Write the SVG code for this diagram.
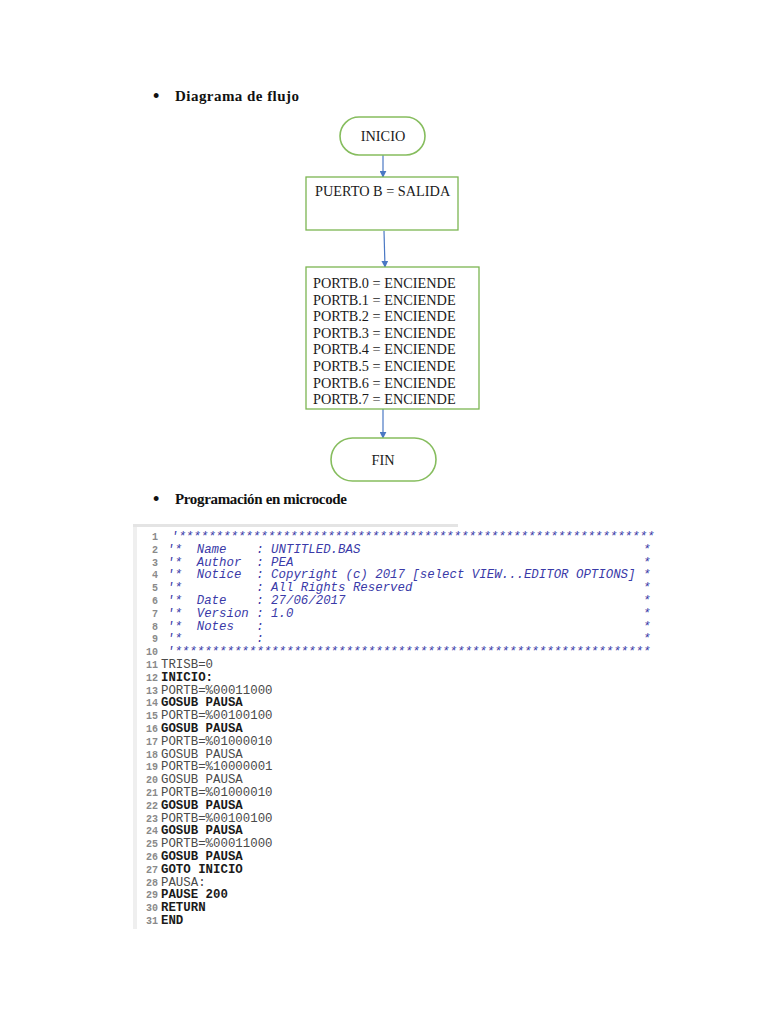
<svg xmlns="http://www.w3.org/2000/svg" width="768" height="1024" viewBox="0 0 768 1024">
<style>
.hd{font-family:"Liberation Serif",serif;font-weight:bold;font-size:15px;fill:#111}
.bul{font-family:"Liberation Sans",sans-serif;font-size:18px;fill:#111}
.term{fill:#fff;stroke:#86bd5e;stroke-width:1.6}
.box{fill:#fff;stroke:#7cb552;stroke-width:1.3}
.t{font-family:"Liberation Serif",serif;font-size:14.3px;fill:#1a1a1a}
.conn{stroke:#4a78c4;stroke-width:1.2;fill:none}
.ln{font-family:"Liberation Mono",monospace;font-size:10px;fill:#8a8a8a;font-weight:bold;text-anchor:end}
.cm{font-family:"Liberation Mono",monospace;font-size:12.4px;font-style:italic;fill:#3a3aa8}
.cd{font-family:"Liberation Mono",monospace;font-size:12.4px;fill:#4a4a4a}
.cb{font-family:"Liberation Mono",monospace;font-size:12.4px;fill:#1a1a1a;font-weight:bold}
</style>
<defs>
<marker id="ah" viewBox="0 0 10 10" refX="9" refY="5" markerWidth="7" markerHeight="7" orient="auto" markerUnits="userSpaceOnUse">
<path d="M0,0 L10,5 L0,10 z" fill="#4a78c4"/>
</marker>
</defs>
<rect width="768" height="1024" fill="#fff"/>

<g id="heading1">
<text class="bul" x="153" y="102">•</text>
<text class="hd" x="175" y="101" textLength="124">Diagrama de flujo</text>
</g>

<g id="connectors">
<line class="conn" x1="383" y1="155" x2="383" y2="177" marker-end="url(#ah)"/>
<line class="conn" x1="384" y1="231" x2="385" y2="267" marker-end="url(#ah)"/>
<line class="conn" x1="383" y1="409" x2="383" y2="438" marker-end="url(#ah)"/>
</g>

<g id="inicio">
<rect class="term" x="340" y="117" width="85" height="38" rx="19"/>
<text class="t" x="383" y="141" text-anchor="middle">INICIO</text>
</g>

<g id="puerto">
<rect class="box" x="306" y="177" width="152" height="53"/>
<text class="t" x="315" y="196">PUERTO B = SALIDA</text>
</g>

<g id="portb">
<rect class="box" x="306" y="267" width="173" height="142"/>
<text class="t" x="313" y="288">PORTB.0 = ENCIENDE</text>
<text class="t" x="313" y="304.6">PORTB.1 = ENCIENDE</text>
<text class="t" x="313" y="321.2">PORTB.2 = ENCIENDE</text>
<text class="t" x="313" y="337.8">PORTB.3 = ENCIENDE</text>
<text class="t" x="313" y="354.4">PORTB.4 = ENCIENDE</text>
<text class="t" x="313" y="371">PORTB.5 = ENCIENDE</text>
<text class="t" x="313" y="387.6">PORTB.6 = ENCIENDE</text>
<text class="t" x="313" y="404.2">PORTB.7 = ENCIENDE</text>
</g>

<g id="fin">
<rect class="term" x="331" y="438" width="105" height="43" rx="21.5"/>
<text class="t" x="383" y="465" text-anchor="middle">FIN</text>
</g>

<g id="heading2">
<text class="bul" x="153" y="505">•</text>
<text class="hd" x="175" y="504" textLength="172">Programación en microcode</text>
</g>

<g id="code">
<rect x="133" y="524" width="325" height="3" fill="#e4e4e4"/>
<rect x="133" y="527" width="4" height="402" fill="#efefef"/>
<text class="ln" x="158" y="540">1</text>
<text class="ln" x="158" y="552.8">2</text>
<text class="ln" x="158" y="565.6">3</text>
<text class="ln" x="158" y="578.4">4</text>
<text class="ln" x="158" y="591.2">5</text>
<text class="ln" x="158" y="604">6</text>
<text class="ln" x="158" y="616.8">7</text>
<text class="ln" x="158" y="629.6">8</text>
<text class="ln" x="158" y="642.4">9</text>
<text class="ln" x="158" y="655.2">10</text>
<text class="ln" x="158" y="668">11</text>
<text class="ln" x="158" y="680.8">12</text>
<text class="ln" x="158" y="693.6">13</text>
<text class="ln" x="158" y="706.4">14</text>
<text class="ln" x="158" y="719.2">15</text>
<text class="ln" x="158" y="732">16</text>
<text class="ln" x="158" y="744.8">17</text>
<text class="ln" x="158" y="757.6">18</text>
<text class="ln" x="158" y="770.4">19</text>
<text class="ln" x="158" y="783.2">20</text>
<text class="ln" x="158" y="796">21</text>
<text class="ln" x="158" y="808.8">22</text>
<text class="ln" x="158" y="821.6">23</text>
<text class="ln" x="158" y="834.4">24</text>
<text class="ln" x="158" y="847.2">25</text>
<text class="ln" x="158" y="860">26</text>
<text class="ln" x="158" y="872.8">27</text>
<text class="ln" x="158" y="885.6">28</text>
<text class="ln" x="158" y="898.4">29</text>
<text class="ln" x="158" y="911.2">30</text>
<text class="ln" x="158" y="924">31</text>

<text class="cm" x="171" y="540" xml:space="preserve">'****************************************************************</text>
<text class="cm" x="167" y="552.8" xml:space="preserve">'*  Name    : UNTITLED.BAS                                      *</text>
<text class="cm" x="167" y="565.6" xml:space="preserve">'*  Author  : PEA                                               *</text>
<text class="cm" x="167" y="578.4" xml:space="preserve">'*  Notice  : Copyright (c) 2017 [select VIEW...EDITOR OPTIONS] *</text>
<text class="cm" x="167" y="591.2" xml:space="preserve">'*          : All Rights Reserved                               *</text>
<text class="cm" x="167" y="604" xml:space="preserve">'*  Date    : 27/06/2017                                        *</text>
<text class="cm" x="167" y="616.8" xml:space="preserve">'*  Version : 1.0                                               *</text>
<text class="cm" x="167" y="629.6" xml:space="preserve">'*  Notes   :                                                   *</text>
<text class="cm" x="167" y="642.4" xml:space="preserve">'*          :                                                   *</text>
<text class="cm" x="167" y="655.2" xml:space="preserve">'****************************************************************</text>

<text class="cd" x="161" y="668">TRISB=0</text>
<text class="cb" x="161" y="680.8">INICIO:</text>
<text class="cd" x="161" y="693.6">PORTB=%00011000</text>
<text class="cb" x="161" y="706.4">GOSUB PAUSA</text>
<text class="cd" x="161" y="719.2">PORTB=%00100100</text>
<text class="cb" x="161" y="732">GOSUB PAUSA</text>
<text class="cd" x="161" y="744.8">PORTB=%01000010</text>
<text class="cd" x="161" y="757.6">GOSUB PAUSA</text>
<text class="cd" x="161" y="770.4">PORTB=%10000001</text>
<text class="cd" x="161" y="783.2">GOSUB PAUSA</text>
<text class="cd" x="161" y="796">PORTB=%01000010</text>
<text class="cb" x="161" y="808.8">GOSUB PAUSA</text>
<text class="cd" x="161" y="821.6">PORTB=%00100100</text>
<text class="cb" x="161" y="834.4">GOSUB PAUSA</text>
<text class="cd" x="161" y="847.2">PORTB=%00011000</text>
<text class="cb" x="161" y="860">GOSUB PAUSA</text>
<text class="cb" x="161" y="872.8">GOTO INICIO</text>
<text class="cd" x="161" y="885.6">PAUSA:</text>
<text class="cb" x="161" y="898.4">PAUSE 200</text>
<text class="cb" x="161" y="911.2">RETURN</text>
<text class="cb" x="161" y="924">END</text>
</g>
</svg>
